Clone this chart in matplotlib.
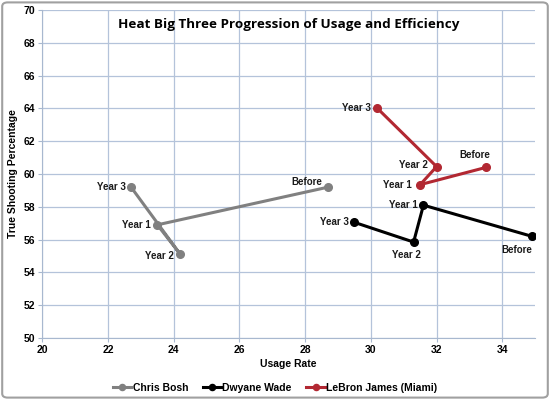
import matplotlib
matplotlib.use('Agg')
import matplotlib.pyplot as plt
from matplotlib.patches import FancyBboxPatch

plt.rcParams['font.family'] = ['Liberation Sans', 'DejaVu Sans']

# 数据：使用率 / 真实命中率
labels = ['Before', 'Year 1', 'Year 2', 'Year 3']
bosh_usage = [28.7, 23.5, 24.2, 22.7]
bosh_ts = [59.2, 56.9, 55.1, 59.2]
wade_usage = [34.9, 31.6, 31.3, 29.5]
wade_ts = [56.2, 58.1, 55.85, 57.05]
lebron_usage = [33.5, 31.5, 32.0, 30.2]
lebron_ts = [60.4, 59.35, 60.45, 64.0]

series = [
    ('Chris Bosh', bosh_usage, bosh_ts, '#808080'),
    ('Dwyane Wade', wade_usage, wade_ts, '#000000'),
    ('LeBron James (Miami)', lebron_usage, lebron_ts, '#B22832'),
]

# 标签偏移 (points)
offsets = {
    'Chris Bosh': [(-4, 4, 'right', 'center'), (-5, 0, 'right', 'center'),
                   (-5, -1, 'right', 'center'), (-4, 0, 'right', 'center')],
    'Dwyane Wade': [(-11, -6, 'center', 'top'), (-4, 0, 'right', 'center'),
                    (-5, -6, 'center', 'top'), (-4, 0, 'right', 'center')],
    'LeBron James (Miami)': [(-8, 5, 'center', 'bottom'), (-6, 0, 'right', 'center'),
                             (-6, 1, 'right', 'center'), (-5, 0, 'right', 'center')],
}

fig = plt.figure(figsize=(5.5, 4.0), dpi=100)
ax = fig.add_axes([0.077, 0.155, 0.896, 0.82])

for name, xs, ys, color in series:
    ax.plot(xs, ys, color=color, lw=2.2, marker='o', ms=5.5, label=name, zorder=3)
    for i, lab in enumerate(labels):
        dx, dy, ha, va = offsets[name][i]
        ax.annotate(lab, (xs[i], ys[i]), xytext=(dx, dy), textcoords='offset points',
                    ha=ha, va=va, fontsize=7, fontweight='bold', color='#1a1a1a')

ax.set_xlim(20, 35)
ax.set_ylim(50, 70)
ax.set_xticks(range(20, 35, 2))
ax.set_yticks(range(50, 71, 2))
ax.grid(True, color='#b4c3da', lw=0.9)
ax.set_axisbelow(True)
for s in ['top', 'right']:
    ax.spines[s].set_visible(False)
for s in ['left', 'bottom']:
    ax.spines[s].set_color('#a8b8cf')
ax.tick_params(length=3, color='#a8b8cf', labelsize=7.5, pad=2)
for t in ax.get_xticklabels() + ax.get_yticklabels():
    t.set_fontweight('bold')
ax.set_xlabel('Usage Rate', fontsize=7.5, fontweight='bold', labelpad=3)
ax.set_ylabel('True Shooting Percentage', fontsize=7.5, fontweight='bold', labelpad=4)

ax.text(0.5, 0.955, 'Heat Big Three Progression of Usage and Efficiency',
        transform=ax.transAxes, ha='center', va='center', fontsize=9.7,
        fontweight='bold', family=['Open Sans', 'DejaVu Sans'])

fig.legend(loc='lower center', bbox_to_anchor=(0.5, -0.005), ncol=3, frameon=False,
           handlelength=1.8, handletextpad=0.1, columnspacing=1.4,
           prop={'weight': 'bold', 'size': 7.5}, markerscale=0.8)

border = FancyBboxPatch((0.004, 0.006), 0.992, 0.988, boxstyle='round,pad=0,rounding_size=0.01',
                        transform=fig.transFigure, fill=False, ec='#a0a0a0', lw=1.5)
fig.patches.append(border)

fig.savefig('out.png', dpi=100)
